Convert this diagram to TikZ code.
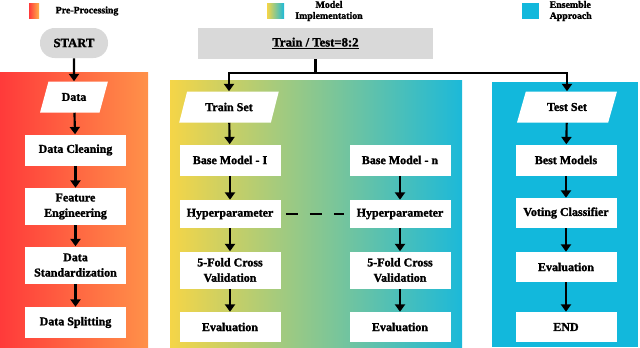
\documentclass[tikz,border=0pt]{standalone}
\usepackage{fontspec}
\setmainfont{Liberation Serif}[BoldFeatures={FakeBold=1.6}]
\usetikzlibrary{arrows.meta,shapes.geometric}
\definecolor{redL}{HTML}{FF3A3A}
\definecolor{redR}{HTML}{FF9149}
\definecolor{swR}{HTML}{FFB24A}
\definecolor{yelL}{HTML}{F5D547}
\definecolor{grnM}{HTML}{86CF9F}
\definecolor{cynR}{HTML}{1CB9D9}
\definecolor{cynP}{HTML}{12B8DC}
\definecolor{grayF}{HTML}{D9D9D9}
\tikzset{
  boxfont/.style={font=\bfseries\fontsize{9}{11.5}\selectfont},
  stepbox/.style={boxfont, fill=white, minimum width=75.75pt, minimum height=23.25pt, inner sep=1pt, align=center},
  tallbox/.style={stepbox, minimum height=27.75pt},
  parabox/.style={boxfont, trapezium, trapezium left angle=67, trapezium right angle=113, trapezium stretches=true, fill=white, minimum height=23.25pt, inner sep=1pt},
  arr/.style={line width=1.6pt, -{Triangle[width=7.5pt,length=5.5pt]}},
  legtext/.style={font=\bfseries\fontsize{7.4}{8.3}\selectfont},
  termbox/.style={font=\bfseries\fontsize{9.5}{11}\selectfont, fill=grayF},
}
\begin{document}
\begin{tikzpicture}[x=0.75pt,y=-0.75pt]
\useasboundingbox (0,0) rectangle (640,347);
% panels
\fill[left color=redL, right color=redR] (0,72) rectangle (148,347);
\fill[left color=yelL, middle color=grnM, right color=cynR] (170,80) rectangle (462,347);
\fill[cynP] (492,82) rectangle (638,347);
% legend
\fill[left color=redL, right color=swR] (29,3) rectangle (39,18);
\node[legtext, anchor=west] (lpre) at (51,11) {Pre-Processing};
\fill[left color=yelL, right color=cynR] (267,3) rectangle (284,18);
\node[legtext, align=center] (lmod) at (329,11) {Model\\Implementation};
\fill[cynP] (522,3) rectangle (539,19);
\node[legtext, align=left, anchor=west] (lens) at (545,11) {Ensemble\\Approach};
% terminals
\node[termbox, rounded corners=11pt, minimum width=51pt, minimum height=22.5pt] (start) at (74,43) {START};
\node[termbox, minimum width=176pt, minimum height=23.25pt] (tt) at (315.5,43.5) {\underline{Train / Test=8:2}};
% pre-processing column
\node[parabox, minimum width=51pt] (data) at (74,97) {Data};
\node[stepbox] (clean) at (75.5,150) {Data Cleaning};
\node[tallbox] (feat) at (75.5,206.5) {Feature\\Engineering};
\node[tallbox] (std) at (75.5,265) {Data\\Standardization};
\node[stepbox] (split) at (75.5,322.5) {Data Splitting};
% model column 1
\node[parabox, minimum width=75pt] (train) at (229,107) {Train Set};
\node[stepbox] (bm1) at (230,160) {Base Model - I};
\node[stepbox, minimum height=21pt] (hp1) at (230,214) {Hyperparameter};
\node[tallbox] (cv1) at (230,270) {5-Fold Cross\\Validation};
\node[stepbox, minimum height=22.5pt] (ev1) at (230,327) {Evaluation};
% model column n
\node[stepbox] (bmn) at (400,160) {Base Model - n};
\node[stepbox, minimum height=21pt] (hpn) at (400,214) {Hyperparameter};
\node[tallbox] (cvn) at (400,270) {5-Fold Cross\\Validation};
\node[stepbox, minimum height=22.5pt] (evn) at (400,327) {Evaluation};
% ensemble column
\node[parabox, minimum width=75pt] (test) at (567,107) {Test Set};
\node[stepbox] (best) at (566,160) {Best Models};
\node[stepbox, minimum height=22.5pt] (vote) at (566,213) {Voting Classifier};
\node[stepbox, minimum height=22.5pt] (evalE) at (566,267) {Evaluation};
\node[stepbox, minimum height=22.5pt] (endn) at (566,327) {END};
% connectors
\coordinate (fork) at (315.5,73);
\draw[arr] (start) -- (data);
\draw[arr] (data) -- (clean);
\draw[arr] (clean) -- (feat);
\draw[arr] (feat) -- (std);
\draw[arr] (std) -- (split);
\draw[line width=1.6pt] (tt) -- (fork);
\draw[arr] (fork) -| (train);
\draw[arr] (fork) -| (test);
\draw[arr] (train) -- (bm1);
\draw[arr] (bm1) -- (hp1);
\draw[arr] (hp1) -- (cv1);
\draw[arr] (cv1) -- (ev1);
\draw[arr] (bmn) -- (hpn);
\draw[arr] (hpn) -- (cvn);
\draw[arr] (cvn) -- (evn);
\draw[arr] (test) -- (best);
\draw[arr] (best) -- (vote);
\draw[arr] (vote) -- (evalE);
\draw[arr] (evalE) -- (endn);
\draw[line width=1.1pt, dash pattern=on 9pt off 9pt] ([xshift=3.75pt]hp1.east) -- ([xshift=-3.75pt]hpn.west);
\end{tikzpicture}
\end{document}
